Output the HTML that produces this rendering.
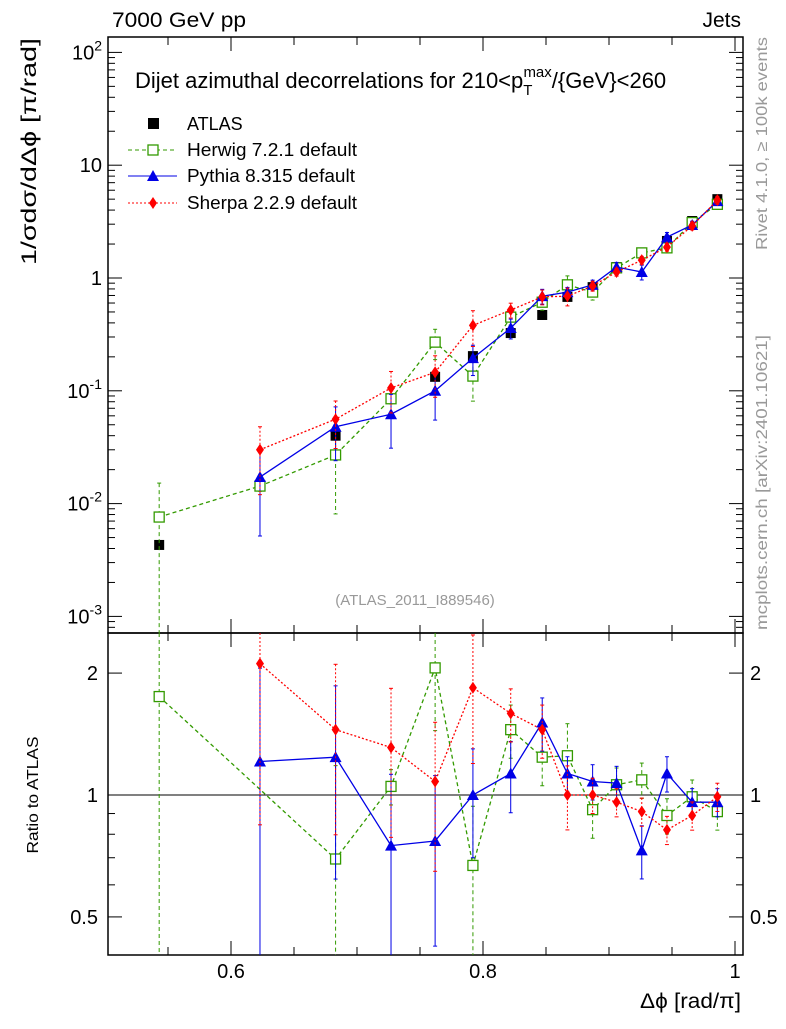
<!DOCTYPE html>
<html><head><meta charset="utf-8"><style>
body{margin:0;background:#fff;}
svg text{font-family:"Liberation Sans",sans-serif;}
</style></head><body>
<svg id="c" width="786" height="1024" xmlns="http://www.w3.org/2000/svg"></svg>
<script>
const xs=[0.543,0.623,0.683,0.727,0.762,0.792,0.822,0.847,0.867,0.887,0.906,0.926,0.946,0.966,0.986];
const atlas=[0.0043,0.0143,0.040,0.085,0.133,0.203,0.325,0.47,0.68,0.83,1.25,1.67,2.13,3.2,5.0];
const herwig=[0.0076,0.0143,0.027,0.085,0.27,0.135,0.45,0.61,0.87,0.75,1.23,1.67,1.85,3.1,4.5];
const pythia=[null,0.0172,0.048,0.062,0.10,0.195,0.36,0.69,0.75,0.87,1.25,1.13,2.3,2.95,4.8];
const sherpa=[null,0.030,0.056,0.106,0.146,0.38,0.52,0.68,0.69,0.85,1.13,1.44,1.88,2.9,4.9];
const herwigRatio=[1.75,null,0.695,1.05,2.06,0.67,1.45,1.24,1.25,0.92,1.06,1.09,0.89,0.99,0.91];
const pythiaRatio=[null,1.21,1.24,0.75,0.77,1.0,1.13,1.51,1.13,1.08,1.07,0.73,1.13,0.96,0.96];
const sherpaRatio=[null,2.11,1.45,1.31,1.08,1.84,1.59,1.45,1.0,1.0,0.96,0.91,0.82,0.89,0.99];
const herwigErr=[1.0,0.1,0.7,0.1,0.3,0.4,0.15,0.15,0.2,0.15,0.1,0.1,0.1,0.1,0.1];
const pythiaErr=[0,0.7,0.5,0.5,0.45,0.3,0.2,0.15,0.1,0.1,0.1,0.15,0.1,0.08,0.08];
const sherpaErr=[0,0.6,0.45,0.4,0.4,0.35,0.15,0.15,0.18,0.1,0.08,0.08,0.08,0.08,0.08];
const xTicks=[0.6,0.8,1.0];const xTickLabels=["0.6","0.8","1"];
const yTickExp=[-3,-2,-1,0,1,2];
const rTicks=[0.5,1,2];

const L=108,R=743,T=37,MB=633,RB=955;
const X=v=>231+(v-0.6)*1260;
const Y=v=>278-112.8*Math.log10(v);
const YR=r=>795-405*Math.log10(r);
const svg=document.getElementById('c');
const NS="http://www.w3.org/2000/svg";
function mk(t,a,txt){const e=document.createElementNS(NS,t);for(const k in a)e.setAttribute(k,a[k]);if(txt!==undefined)e.textContent=txt;svg.appendChild(e);return e;}
function clip(y,lo,hi){return Math.max(lo,Math.min(hi,y));}

let e=mk('rect',{x:L,y:T,width:R-L,height:MB-T,fill:'none',stroke:'#000','stroke-width':1.5});

e=mk('rect',{x:L,y:MB,width:R-L,height:RB-MB,fill:'none',stroke:'#000','stroke-width':1.5});


for(let v=0.55;v<=1.001;v+=0.05){const px=X(v);const maj=xTicks.some(t=>Math.abs(t-v)<1e-6);const len=maj?14:8;
 for(const [yb,yt] of [[MB,T],[RB,MB]]){mk('line',{x1:px,y1:yb,x2:px,y2:yb-len,stroke:'#000'});mk('line',{x1:px,y1:yt,x2:px,y2:yt+len,stroke:'#000'});}}
xTicks.forEach((v,i)=>{e=mk('text',{x:X(v),y:978,'font-size':20,'text-anchor':'middle'},xTickLabels[i]);
 });
yTickExp.forEach(p=>{const py=Y(Math.pow(10,p));
 mk('line',{x1:L,y1:py,x2:L+14,y2:py,stroke:'#000'});mk('line',{x1:R,y1:py,x2:R-14,y2:py,stroke:'#000'});
 for(let m=2;m<10;m++){const q=Y(m*Math.pow(10,p));if(q<T)break;mk('line',{x1:L,y1:q,x2:L+7,y2:q,stroke:'#000'});mk('line',{x1:R,y1:q,x2:R-7,y2:q,stroke:'#000'});}
 let lab;if(p===0)lab='1';else if(p===1)lab='10';else lab=null;
 if(lab){e=mk('text',{x:L-6,y:py+7,'font-size':20,'text-anchor':'end'},lab);}
 else{e=mk('text',{x:L-6,y:py+7,'font-size':20,'text-anchor':'end'});
  const t1=document.createElementNS(NS,'tspan');t1.textContent='10';e.appendChild(t1);
  const t2=document.createElementNS(NS,'tspan');t2.setAttribute('dy','-9');t2.setAttribute('font-size','14');t2.textContent=String(p);e.appendChild(t2);}
 
});
for(let m=2;m<10;m++){const q=Y(m*1e-4);if(q<MB){mk('line',{x1:L,y1:q,x2:L+7,y2:q,stroke:'#000'});mk('line',{x1:R,y1:q,x2:R-7,y2:q,stroke:'#000'});}}
[0.4,0.5,0.6,0.7,0.8,0.9,1,2].forEach(r=>{const q=YR(r);if(q>RB||q<MB)return;const maj=rTicks.includes(r);const len=maj?14:7;
 mk('line',{x1:L,y1:q,x2:L+len,y2:q,stroke:'#000'});mk('line',{x1:R,y1:q,x2:R-len,y2:q,stroke:'#000'});});
rTicks.forEach(r=>{e=mk('text',{x:L-10,y:YR(r)+7,'font-size':20,'text-anchor':'end'},String(r));
 e=mk('text',{x:R+7,y:YR(r)+7,'font-size':20},String(r));});
mk('line',{x1:L,y1:YR(1),x2:R,y2:YR(1),stroke:'#000'});

function series(vals,errs,ratio,color,dash,marker,name){
 const g=document.createElementNS(NS,'g');svg.appendChild(g);
 
 [[vals,Y,T,MB],[ratio,YR,MB,RB]].forEach(([arr,f,lo,hi])=>{
  let pts=[];
  arr.forEach((v,i)=>{if(v==null)return;const px=X(xs[i]);const py=f(v);pts.push(px+','+clip(py,lo,hi));
   const er=errs[i];if(er>0){const y1=clip(f(v*(1+er)),lo,hi),y2=er>=1?hi:clip(f(v*(1-er)),lo,hi);
    const l=document.createElementNS(NS,'line');l.setAttribute('x1',px);l.setAttribute('x2',px);l.setAttribute('y1',y1);l.setAttribute('y2',y2);l.setAttribute('stroke',color);if(dash)l.setAttribute('stroke-dasharray',dash);g.appendChild(l);
    [y1,y2].forEach(yy=>{if(yy>lo&&yy<hi){const c=document.createElementNS(NS,'line');c.setAttribute('x1',px-2);c.setAttribute('x2',px+2);c.setAttribute('y1',yy);c.setAttribute('y2',yy);c.setAttribute('stroke',color);g.appendChild(c);}});}
  });
  const pl=document.createElementNS(NS,'polyline');pl.setAttribute('points',pts.join(' '));pl.setAttribute('fill','none');pl.setAttribute('stroke',color);pl.setAttribute('stroke-width',1.3);if(dash)pl.setAttribute('stroke-dasharray',dash);g.appendChild(pl);
  arr.forEach((v,i)=>{if(v==null)return;const py=f(v);if(py<lo||py>hi)return;g.appendChild(marker(X(xs[i]),py));});
 });
}
function sq(px,py){const r=document.createElementNS(NS,'rect');r.setAttribute('x',px-5);r.setAttribute('y',py-5);r.setAttribute('width',10);r.setAttribute('height',10);r.setAttribute('fill','#fff');r.setAttribute('stroke','#339a00');r.setAttribute('stroke-width',1.3);return r;}
function tri(px,py){const p=document.createElementNS(NS,'polygon');p.setAttribute('points',`${px-6},${py+5} ${px+6},${py+5} ${px},${py-6}`);p.setAttribute('fill','#0000e6');return p;}
function dia(px,py){const p=document.createElementNS(NS,'polygon');p.setAttribute('points',`${px},${py-6} ${px+4},${py} ${px},${py+6} ${px-4},${py}`);p.setAttribute('fill','#f00');return p;}
atlas.forEach((v,i)=>{e=mk('rect',{x:X(xs[i])-5,y:Y(v)-5,width:10,height:10,fill:'#000'});});
series(herwig,herwigErr,herwigRatio,'#339a00','4,3',sq,'herwig');
series(pythia,pythiaErr,pythiaRatio,'#0000e6',null,tri,'pythia');
series(sherpa,sherpaErr,sherpaRatio,'#f00','2,2',dia,'sherpa');

function tx(x,y,t,s,a,name,extra){const el=mk('text',Object.assign({x:x,y:y,'font-size':s,'text-anchor':a||'start'},extra||{}),t);return el;}
tx(112,27,'7000 GeV pp',21,'start','beam-label',{textLength:134,lengthAdjust:'spacingAndGlyphs'});
tx(741,27,'Jets',21,'end','process-label');
e=tx(135,88,'Dijet azimuthal decorrelations for 210<p',22,'start','plot-title');
let ts=document.createElementNS(NS,'tspan');ts.setAttribute('font-size','15');ts.setAttribute('dy','7');ts.textContent='T';e.appendChild(ts);
ts=document.createElementNS(NS,'tspan');ts.setAttribute('font-size','15');ts.setAttribute('dy','-18');ts.setAttribute('dx','-9');ts.textContent='max';e.appendChild(ts);
ts=document.createElementNS(NS,'tspan');ts.setAttribute('dy','11');ts.textContent='/{GeV}<260';e.appendChild(ts);
tx(415,605,'(ATLAS_2011_I889546)',15,'middle','analysis-id',{fill:'#999'});
tx(741,1008,'Δϕ [rad/π]',21,'end','x-axis-title',{textLength:101,lengthAdjust:'spacingAndGlyphs'});
tx(0,0,'1/σdσ/dΔϕ [π/rad]',21,'end','y-axis-title',{transform:'translate(36,38) rotate(-90)',textLength:227,lengthAdjust:'spacingAndGlyphs'});
tx(0,0,'Ratio to ATLAS',16,'middle','ratio-axis-title',{transform:'translate(38,795) rotate(-90)',textLength:117,lengthAdjust:'spacingAndGlyphs'});
tx(0,0,'Rivet 4.1.0, ≥ 100k events',16,'start','rivet-label',{transform:'translate(767,250) rotate(-90)',fill:'#999',textLength:213,lengthAdjust:'spacingAndGlyphs'});
tx(0,0,'mcplots.cern.ch [arXiv:2401.10621]',16,'start','mcplots-label',{transform:'translate(767,630) rotate(-90)',fill:'#999',textLength:295,lengthAdjust:'spacingAndGlyphs'});
e=mk('rect',{x:148,y:118,width:11,height:11,fill:'#000'});
tx(187,130,'ATLAS',18,'start','legend-atlas');
mk('line',{x1:128,y1:150,x2:177,y2:150,stroke:'#339a00','stroke-dasharray':'4,3'});svg.appendChild(sq(153,150));
tx(187,156,'Herwig 7.2.1 default',18,'start','legend-herwig',{textLength:170,lengthAdjust:'spacingAndGlyphs'});
mk('line',{x1:128,y1:176,x2:177,y2:176,stroke:'#0000e6'});svg.appendChild(tri(153,176));
tx(187,182,'Pythia 8.315 default',18,'start','legend-pythia',{textLength:168,lengthAdjust:'spacingAndGlyphs'});
mk('line',{x1:128,y1:203,x2:177,y2:203,stroke:'#f00','stroke-dasharray':'2,2'});svg.appendChild(dia(153,203));
tx(187,209,'Sherpa 2.2.9 default',18,'start','legend-sherpa',{textLength:170,lengthAdjust:'spacingAndGlyphs'});
</script>
</body></html>
